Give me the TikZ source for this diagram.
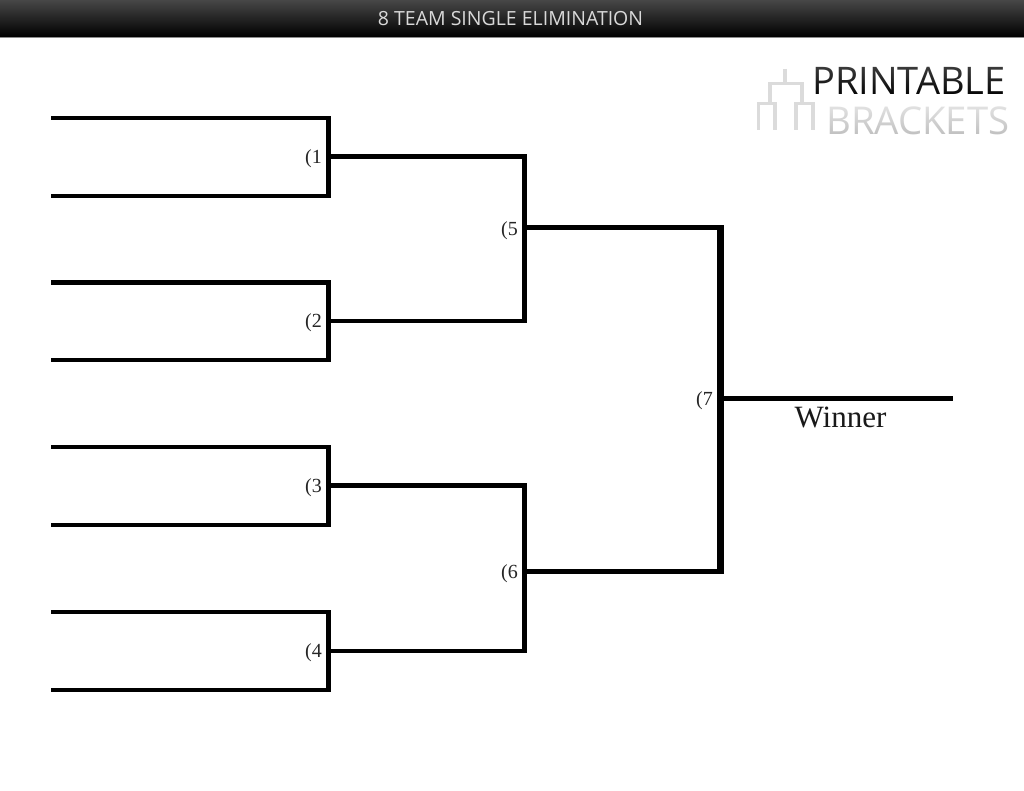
\documentclass[tikz,border=0pt]{standalone}
\usepackage{fontspec}
\setmainfont{Liberation Serif}
\newfontfamily\logofont{Open Sans}
\usetikzlibrary{fadings}
\definecolor{barTop}{HTML}{474747}
\tikzset{
  thin line/.style={line width=4.4pt,black,line cap=butt,line join=miter},
  round two/.style={line width=4.4pt,black,line cap=butt},
  stem two/.style={line width=5pt,black,line cap=butt},
  round three/.style={line width=5pt,black,line cap=butt},
  stem three/.style={line width=6.5pt,black,line cap=butt},
  seed/.style={inner sep=0pt,anchor=east,font=\fontsize{20}{20}\selectfont,text=black!85},
  logo/.style={inner sep=0pt,anchor=base west},
  logo mark/.style={line width=3.2pt,black!14,line cap=butt,line join=miter},
  logo fade/.style={white,path fading=south},
}
\begin{document}
\begin{tikzpicture}[x=1pt,y=-1pt]
\useasboundingbox (0,0) rectangle (1024,791);
\fill[white] (0,0) rectangle (1024,791);
% title bar
\shade[top color=barTop,bottom color=black] (0,0) rectangle (1024,37);
\fill[black!45] (0,37) rectangle (1024,38.5);
\node[inner sep=0pt,text=black!15,font=\logofont\fontsize{19.5}{19}\selectfont] (title) at (510.5,18.5) {8 TEAM SINGLE ELIMINATION};
% first round
\foreach \n/\a/\m/\b in {1/118/156.5/196,2/282.5/321/360,3/447/485.5/525,4/612/651/690}{
  \coordinate (t\n) at (51,\a);
  \coordinate (b\n) at (51,\b);
  \coordinate (j\n) at (328.5,\m);
  \draw[thin line] (t\n) -| (j\n) |- (b\n);
  \node[seed] (s\n) at (322,\m+2) {(\n};
}
% second round
\coordinate (j5) at (524.5,228);
\coordinate (j6) at (524.5,571);
\draw[round two] (j1) -- (j1 -| j5);
\draw[round two] (j2) -- (j2 -| j5);
\draw[round two] (j3) -- (j3 -| j6);
\draw[round two] (j4) -- (j4 -| j6);
\draw[stem two] ([yshift=2.2pt]j1 -| j5) -- ([yshift=-2.2pt]j2 -| j5);
\draw[stem two] ([yshift=2.2pt]j3 -| j6) -- ([yshift=-2.2pt]j4 -| j6);
\node[seed] (s5) at (518,231) {(5};
\node[seed] (s6) at (518,574) {(6};
% final
\coordinate (j7) at (720.5,398.5);
\coordinate (end) at (953,398.5);
\draw[round three] (j5) -- (j5 -| j7);
\draw[round three] (j6) -- (j6 -| j7);
\draw[stem three] ([yshift=2.5pt]j5 -| j7) -- ([yshift=-2.5pt]j6 -| j7);
\draw[round three] (j7) -- (end);
\node[seed] (s7) at (713,401) {(7};
\node[inner sep=0pt,font=\fontsize{31}{31}\selectfont,text=black!90] (winner) at (840.5,417) {Winner};
% logo
\node[logo,text=black,font=\logofont\fontsize{38}{38}\selectfont] (printable) at (812,95) {PRINTABLE};
\node[logo,text=black!26,font=\logofont\fontsize{38.3}{38}\selectfont] (brackets) at (826,135) {BRACKETS};
\fill[logo fade,fill opacity=.25] (810,64) rectangle (1012,97);
\fill[logo fade,fill opacity=.6] (824,104) rectangle (1012,138);
\coordinate (m0) at (785,69);
\coordinate (m1) at (785,83);
\draw[logo mark] (m0) -- (m1);
\draw[logo mark] (770,103) |- (802,83.5) -- (802,103);
\draw[logo mark] (758.5,130) |- (775,103.5) -- (775,130);
\draw[logo mark] (796,130) |- (813,103.5) -- (813,130);
\end{tikzpicture}
\end{document}
